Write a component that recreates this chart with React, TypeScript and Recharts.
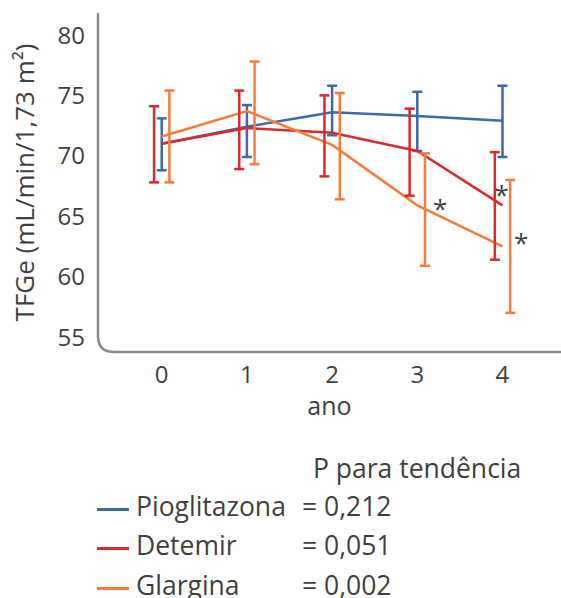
import { ComposedChart, Line, Scatter, ErrorBar, XAxis, YAxis, Customized } from "recharts";

const years = [0, 1, 2, 3, 4];

// média e limites (IC)
const pioMean = [71.0, 72.4, 73.6, 73.3, 72.9];
const pioLow = [68.8, 69.9, 71.7, 70.4, 69.9];
const pioHigh = [73.1, 74.2, 75.8, 75.3, 75.8];

const detMean = [71.0, 72.3, 71.9, 70.4, 65.9];
const detLow = [67.8, 68.9, 68.3, 66.7, 61.4];
const detHigh = [74.1, 75.4, 75.0, 73.9, 70.3];

const glaMean = [71.6, 73.7, 70.9, 65.9, 62.5];
const glaLow = [67.8, 69.3, 66.4, 60.9, 57.0];
const glaHigh = [75.4, 77.8, 75.2, 70.2, 68.0];

const yTicks = [55, 60, 65, 70, 75, 80];

const stars = [
  { x: 3.27, y: 66.0 },
  { x: 3.99, y: 67.2 },
  { x: 4.22, y: 63.2 },
];

const legendRows = [
  { name: "Pioglitazona", p: "= 0,212", color: "#3b6aa6" },
  { name: "Detemir", p: "= 0,051", color: "#d92a30" },
  { name: "Glargina", p: "= 0,002", color: "#f57c3c" },
];

const BLUE = "#3b6aa6";
const RED = "#d92a30";
const ORANGE = "#f57c3c";
const TEXT = "#3f3f3f";
const FONT = "'Open Sans', sans-serif";

const W = 561;
const H = 430;
const M = { top: 13, right: 0, bottom: 18, left: 0 };
const Y_W = 98;
const X_H = 60;
const OFF = 0.09;

const err = (m: number[], lo: number[], hi: number[], i: number) => [m[i] - lo[i], hi[i] - m[i]];

const rows = years.map((x, i) => ({
  x,
  pio: pioMean[i],
  pioErr: err(pioMean, pioLow, pioHigh, i),
  det: detMean[i],
  gla: glaMean[i],
}));

const detBars = years.map((x, i) => ({ x: x - OFF, v: detMean[i], e: err(detMean, detLow, detHigh, i) }));
const glaBars = years.map((x, i) => ({ x: x + OFF, v: glaMean[i], e: err(glaMean, glaLow, glaHigh, i) }));

function Frame() {
  const left = M.left + Y_W;
  const top = M.top;
  const bottom = H - M.bottom - X_H;
  const r = 16;
  return (
    <path
      d={`M${left},${top} L${left},${bottom - r} Q${left},${bottom} ${left + r},${bottom} L${W},${bottom}`}
      fill="none"
      stroke="#8a8a8a"
      strokeWidth={2.5}
    />
  );
}

const noShape = () => <g />;

const starShape = (props: any) => (
  <text x={props.cx} y={props.cy + 14} textAnchor="middle" fontSize={26} fill={TEXT} fontFamily={FONT}>
    *
  </text>
);

export default function App() {
  return (
    <div style={{ position: "absolute", left: 0, top: 0, width: W, height: 598, fontFamily: FONT, background: "#fff" }}>
      <ComposedChart width={W} height={H} data={rows} margin={M}>
        <XAxis
          dataKey="x"
          type="number"
          domain={[-0.748, 4.687]}
          ticks={years}
          allowDataOverflow
          axisLine={false}
          tickLine={false}
          tickSize={0}
          tickMargin={14}
          height={X_H}
          tick={{ fontSize: 24, fill: TEXT, fontFamily: FONT }}
          label={{ value: "ano", position: "insideBottom", offset: -3, fontSize: 25, fill: TEXT, fontFamily: FONT }}
        />
        <YAxis
          type="number"
          domain={[53.76, 81.82]}
          ticks={yTicks}
          allowDataOverflow
          axisLine={false}
          tickLine={false}
          tickSize={0}
          tickMargin={13}
          width={Y_W}
          tick={{ fontSize: 24, fill: TEXT, fontFamily: FONT }}
          label={{
            value: "TFGe (mL/min/1,73 m²)",
            angle: -90,
            position: "insideLeft",
            offset: 25,
            fontSize: 26,
            fill: TEXT,
            fontFamily: FONT,
            style: { textAnchor: "middle" },
          }}
        />
        <Customized component={<Frame />} />
        <Line dataKey="pio" stroke={BLUE} strokeWidth={2.5} dot={false} isAnimationActive={false}>
          <ErrorBar dataKey="pioErr" direction="y" stroke={BLUE} strokeWidth={2.5} width={5} />
        </Line>
        <Line dataKey="det" stroke={RED} strokeWidth={2.5} dot={false} isAnimationActive={false} />
        <Line dataKey="gla" stroke={ORANGE} strokeWidth={2.5} dot={false} isAnimationActive={false} />
        <Scatter data={detBars} dataKey="v" shape={noShape} isAnimationActive={false}>
          <ErrorBar dataKey="e" direction="y" stroke={RED} strokeWidth={2.5} width={5} />
        </Scatter>
        <Scatter data={glaBars} dataKey="v" shape={noShape} isAnimationActive={false}>
          <ErrorBar dataKey="e" direction="y" stroke={ORANGE} strokeWidth={2.5} width={5} />
        </Scatter>
        <Scatter data={stars} dataKey="y" shape={starShape} isAnimationActive={false} />
      </ComposedChart>
      <div style={{ position: "absolute", left: 0, top: 440, width: W, color: TEXT, fontSize: 26.5 }}>
        <div style={{ position: "absolute", left: 313, top: 10, whiteSpace: "nowrap" }}>P para tendência</div>
        {legendRows.map((r, i) => (
          <div key={r.name} style={{ position: "absolute", left: 0, top: Math.round(48 + i * 39.3), height: 36, width: W }}>
            <div style={{ position: "absolute", left: 97, top: 20, width: 32, height: 3, background: r.color }} />
            <div style={{ position: "absolute", left: 136, top: 0, whiteSpace: "nowrap" }}>{r.name}</div>
            <div style={{ position: "absolute", left: 302, top: 0, whiteSpace: "nowrap" }}>{r.p}</div>
          </div>
        ))}
      </div>
    </div>
  );
}
